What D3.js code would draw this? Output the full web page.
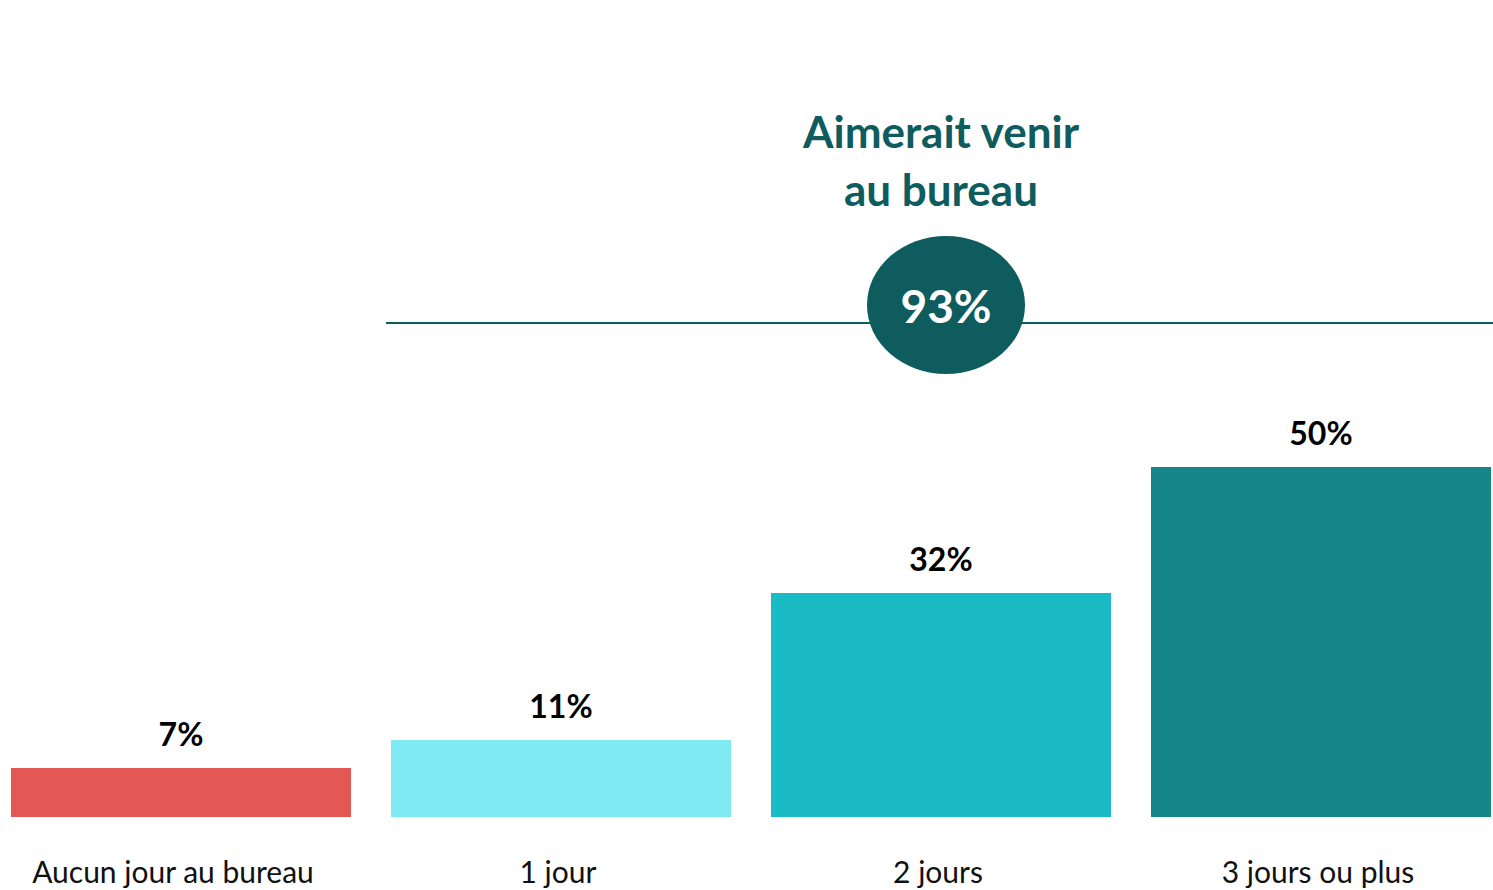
<!DOCTYPE html>
<html>
<head>
<meta charset="utf-8">
<script src="https://cdn.jsdelivr.net/npm/d3@7"></script>
<style>
	body { margin: 0; background: #fff; }
	svg { display: block; font-family: Lato, "Open Sans", sans-serif; }
	.value { font-weight: bold; font-size: 32px; fill: #000; }
	.category { font-size: 30px; fill: #111; }
	.title { font-weight: bold; font-size: 44px; fill: #0E5C5E; }
	.total { font-weight: bold; font-size: 46px; fill: #fff; }
</style>
</head>
<body>
<script>
const WIDTH = 1493;
const HEIGHT = 890;
const BASELINE = 817;

var categories = ['Aucun jour au bureau', '1 jour', '2 jours', '3 jours ou plus'];
var values = [7, 11, 32, 50];
var colors = ['#E35754', '#7FEAF3', '#1BBBC5', '#16868B'];
var titleLines = ['Aimerait venir', 'au bureau'];
var totalValue = 93;

var _xScale, _yScale;

var createSvg = function(){
	d3.select('body')
		.append('svg')
		.attr('width', WIDTH)
		.attr('height', HEIGHT);

	_xScale = d3.scaleBand().domain(categories).range([-9, 1511])
		.paddingInner(40/380).paddingOuter(20/380);
	_yScale = d3.scaleLinear().domain([0, 50]).range([BASELINE, 467]);
}

var drawBars = function(){
	var svg = d3.select('svg');
	var data = categories.map(function(c, i){ return {cat: c, value: values[i], color: colors[i]}; });

	svg.append('g')
		.selectAll('rect')
		.data(data)
		.enter()
		.append('rect')
		.attr('x', function(d){ return _xScale(d.cat); })
		.attr('y', function(d){ return _yScale(d.value); })
		.attr('width', _xScale.bandwidth())
		.attr('height', function(d){ return BASELINE - _yScale(d.value); })
		.attr('fill', function(d){ return d.color; });

	svg.append('g')
		.selectAll('text')
		.data(data)
		.enter()
		.append('text')
		.classed('value', true)
		.attr('text-anchor', 'middle')
		.attr('x', function(d){ return _xScale(d.cat) + _xScale.bandwidth()/2; })
		.attr('y', function(d){ return _yScale(d.value) - 22; })
		.text(function(d){ return d.value + '%'; });

	// category labels (no axis line in the original)
	svg.append('g')
		.selectAll('text')
		.data(data)
		.enter()
		.append('text')
		.classed('category', true)
		.attr('text-anchor', 'middle')
		.attr('x', function(d, i){ return _xScale(d.cat) + _xScale.bandwidth()/2 - (i == 0 ? 8 : 3); })
		.attr('y', 883)
		.text(function(d){ return d.cat; });
}

var drawTotal = function(){
	var svg = d3.select('svg');
	var cx = _xScale(categories[2]) + _xScale.bandwidth()/2;

	svg.append('line')
		.attr('x1', _xScale(categories[1]) - 5)
		.attr('x2', WIDTH)
		.attr('y1', 323)
		.attr('y2', 323)
		.attr('stroke', '#0E5C5E')
		.attr('stroke-width', 2);

	svg.append('ellipse')
		.attr('cx', cx + 5)
		.attr('cy', 305)
		.attr('rx', 79)
		.attr('ry', 69)
		.attr('fill', '#0E5C5E');

	svg.append('text')
		.classed('total', true)
		.attr('text-anchor', 'middle')
		.attr('x', cx + 5)
		.attr('y', 323)
		.text(totalValue + '%');

	svg.append('g')
		.selectAll('text')
		.data(titleLines)
		.enter()
		.append('text')
		.classed('title', true)
		.attr('text-anchor', 'middle')
		.attr('x', cx)
		.attr('y', function(d, i){ return 148 + i*58; })
		.text(function(d){ return d; });
}

window.onload = function(){
	createSvg();
	drawBars();
	drawTotal();
}
</script>
</body>
</html>
